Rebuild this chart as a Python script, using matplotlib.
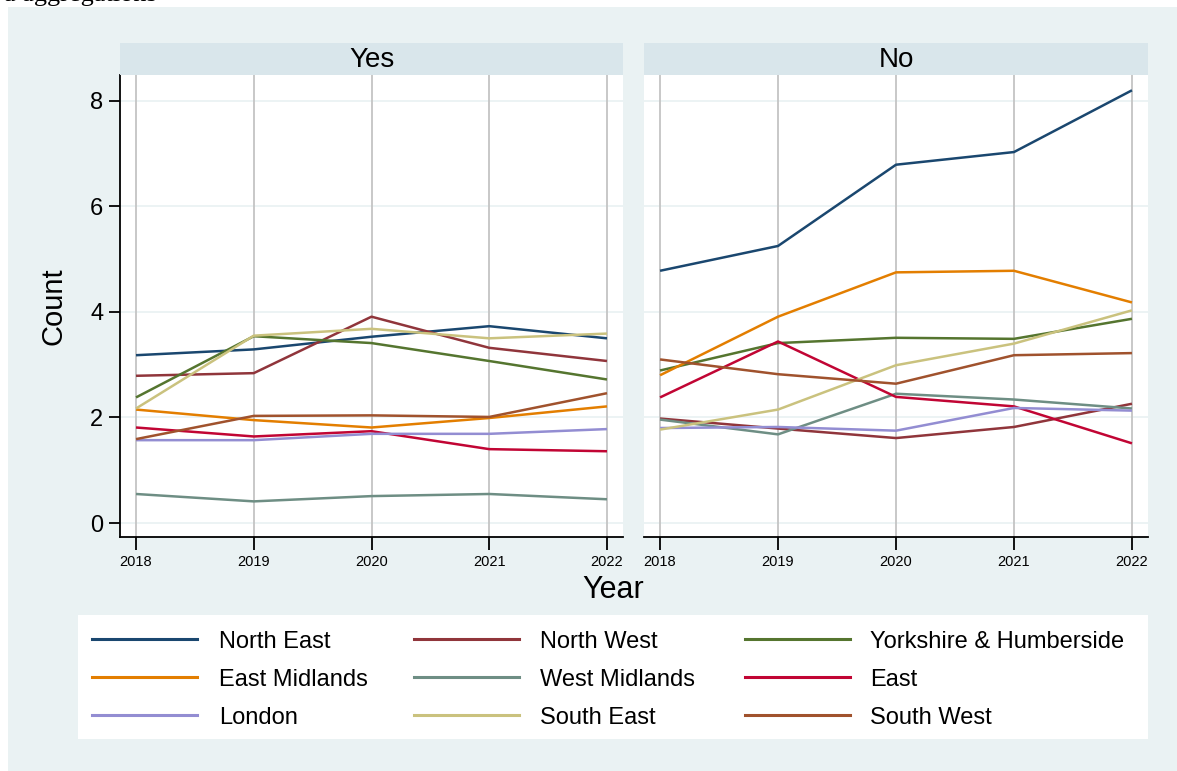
import numpy as np
import matplotlib.pyplot as plt
import matplotlib as mpl
from matplotlib.lines import Line2D
from matplotlib.patches import Rectangle

mpl.rcParams["font.family"] = ["Liberation Sans", "DejaVu Sans"]

years = [2018, 2019, 2020, 2021, 2022]
regions = ["North East", "North West", "Yorkshire & Humberside",
           "East Midlands", "West Midlands", "East",
           "London", "South East", "South West"]
colors = ["#1A476F", "#90353B", "#55752F",
          "#E37E00", "#6E8E84", "#C10534",
          "#938DD2", "#CAC27E", "#A0522D"]

yes_counts = {
    "North East":             [3.18, 3.29, 3.53, 3.73, 3.50],
    "North West":             [2.79, 2.84, 3.91, 3.32, 3.07],
    "Yorkshire & Humberside": [2.38, 3.54, 3.41, 3.07, 2.72],
    "East Midlands":          [2.15, 1.95, 1.81, 1.99, 2.21],
    "West Midlands":          [0.55, 0.41, 0.51, 0.55, 0.45],
    "East":                   [1.81, 1.64, 1.74, 1.40, 1.36],
    "London":                 [1.57, 1.57, 1.69, 1.69, 1.78],
    "South East":             [2.17, 3.55, 3.68, 3.50, 3.59],
    "South West":             [1.59, 2.03, 2.04, 2.01, 2.46],
}
no_counts = {
    "North East":             [4.78, 5.25, 6.79, 7.03, 8.20],
    "North West":             [1.98, 1.79, 1.61, 1.82, 2.26],
    "Yorkshire & Humberside": [2.89, 3.41, 3.51, 3.49, 3.87],
    "East Midlands":          [2.80, 3.91, 4.75, 4.78, 4.18],
    "West Midlands":          [1.96, 1.68, 2.45, 2.34, 2.17],
    "East":                   [2.38, 3.44, 2.39, 2.21, 1.51],
    "London":                 [1.80, 1.82, 1.75, 2.18, 2.13],
    "South East":             [1.77, 2.15, 2.99, 3.40, 4.03],
    "South West":             [3.10, 2.82, 2.64, 3.18, 3.22],
}

W, H = 1177, 771
bg = "#EAF2F3"
strip_col = "#D9E6EB"

fig = plt.figure(figsize=(W / 100, H / 100), dpi=100)
fig.patch.set_facecolor("white")


def fx(x):
    return x / W


def fy(y):
    return 1 - y / H


def px_box(x0, y0, x1, y1):
    return [fx(x0), fy(y1), (x1 - x0) / W, (y1 - y0) / H]


# graph region background
fig.patches.append(Rectangle((fx(8), 0), 1 - fx(8), fy(7),
                             transform=fig.transFigure, facecolor=bg,
                             edgecolor="none", zorder=-10))

# bit of text from the page above, cut off at the edge
fig.text(fx(4), fy(1.5), "a aggregations", family="Liberation Serif",
         fontsize=19, va="baseline", ha="left")

panels = [("Yes", yes_counts, 120, 623), ("No", no_counts, 644, 1148)]
for i, (title, data, x0, x1) in enumerate(panels):
    ax = fig.add_axes(px_box(x0, 75, x1, 537))
    for name, c in zip(regions, colors):
        ax.plot(years, data[name], color=c, lw=1.8, solid_capstyle="butt")
    ax.set_xlim(2017.864, 2022.136)
    ax.set_ylim(-0.265, 8.49)
    ax.set_yticks([0, 2, 4, 6, 8])
    ax.set_xticks(years)
    for y in [0, 2, 4, 6, 8]:
        ax.axhline(y, color=bg, lw=1.3, zorder=0)
    for x in years:
        ax.axvline(x, color="#C4C4C4", lw=1.3, zorder=0.5)
    for s in ["top", "right"]:
        ax.spines[s].set_visible(False)
    ax.spines["bottom"].set_linewidth(1.3)
    ax.spines["left"].set_linewidth(1.3)
    ax.tick_params(axis="x", length=9, width=1.3, labelsize=10.5, pad=4)
    ax.tick_params(axis="y", length=8, width=1.3, labelsize=17, pad=4)
    if i == 0:
        ax.set_ylabel("Count", fontsize=21, labelpad=16)
    else:
        ax.spines["left"].set_visible(False)
        ax.tick_params(axis="y", left=False, labelleft=False)

    sx = fig.add_axes(px_box(x0, 43, x1, 75))
    sx.set_facecolor(strip_col)
    sx.set_xticks([])
    sx.set_yticks([])
    for s in sx.spines.values():
        s.set_visible(False)
    sx.text(0.5, 0.47, title, ha="center", va="center", fontsize=20,
            transform=sx.transAxes)

fig.text(fx(613), fy(590), "Year", ha="center", va="center", fontsize=22)

# legend: white box, three columns filled row by row
fig.patches.append(Rectangle((fx(78), fy(739)), (1148 - 78) / W, (739 - 615) / H,
                             transform=fig.transFigure, facecolor="white",
                             edgecolor="none", zorder=1))
key_x = [92, 414, 745]
text_x = [219, 540, 870]
row_y = [639, 677, 715]
for k, (name, c) in enumerate(zip(regions, colors)):
    r, col = divmod(k, 3)
    fig.add_artist(Line2D([fx(key_x[col]), fx(key_x[col] + 105)],
                          [fy(row_y[r]), fy(row_y[r])], color=c, lw=2.2,
                          transform=fig.transFigure, zorder=2))
    fig.text(fx(text_x[col]), fy(row_y[r]), name, ha="left",
             va="center_baseline", fontsize=17, zorder=2)

fig.savefig("out.png", dpi=100)
